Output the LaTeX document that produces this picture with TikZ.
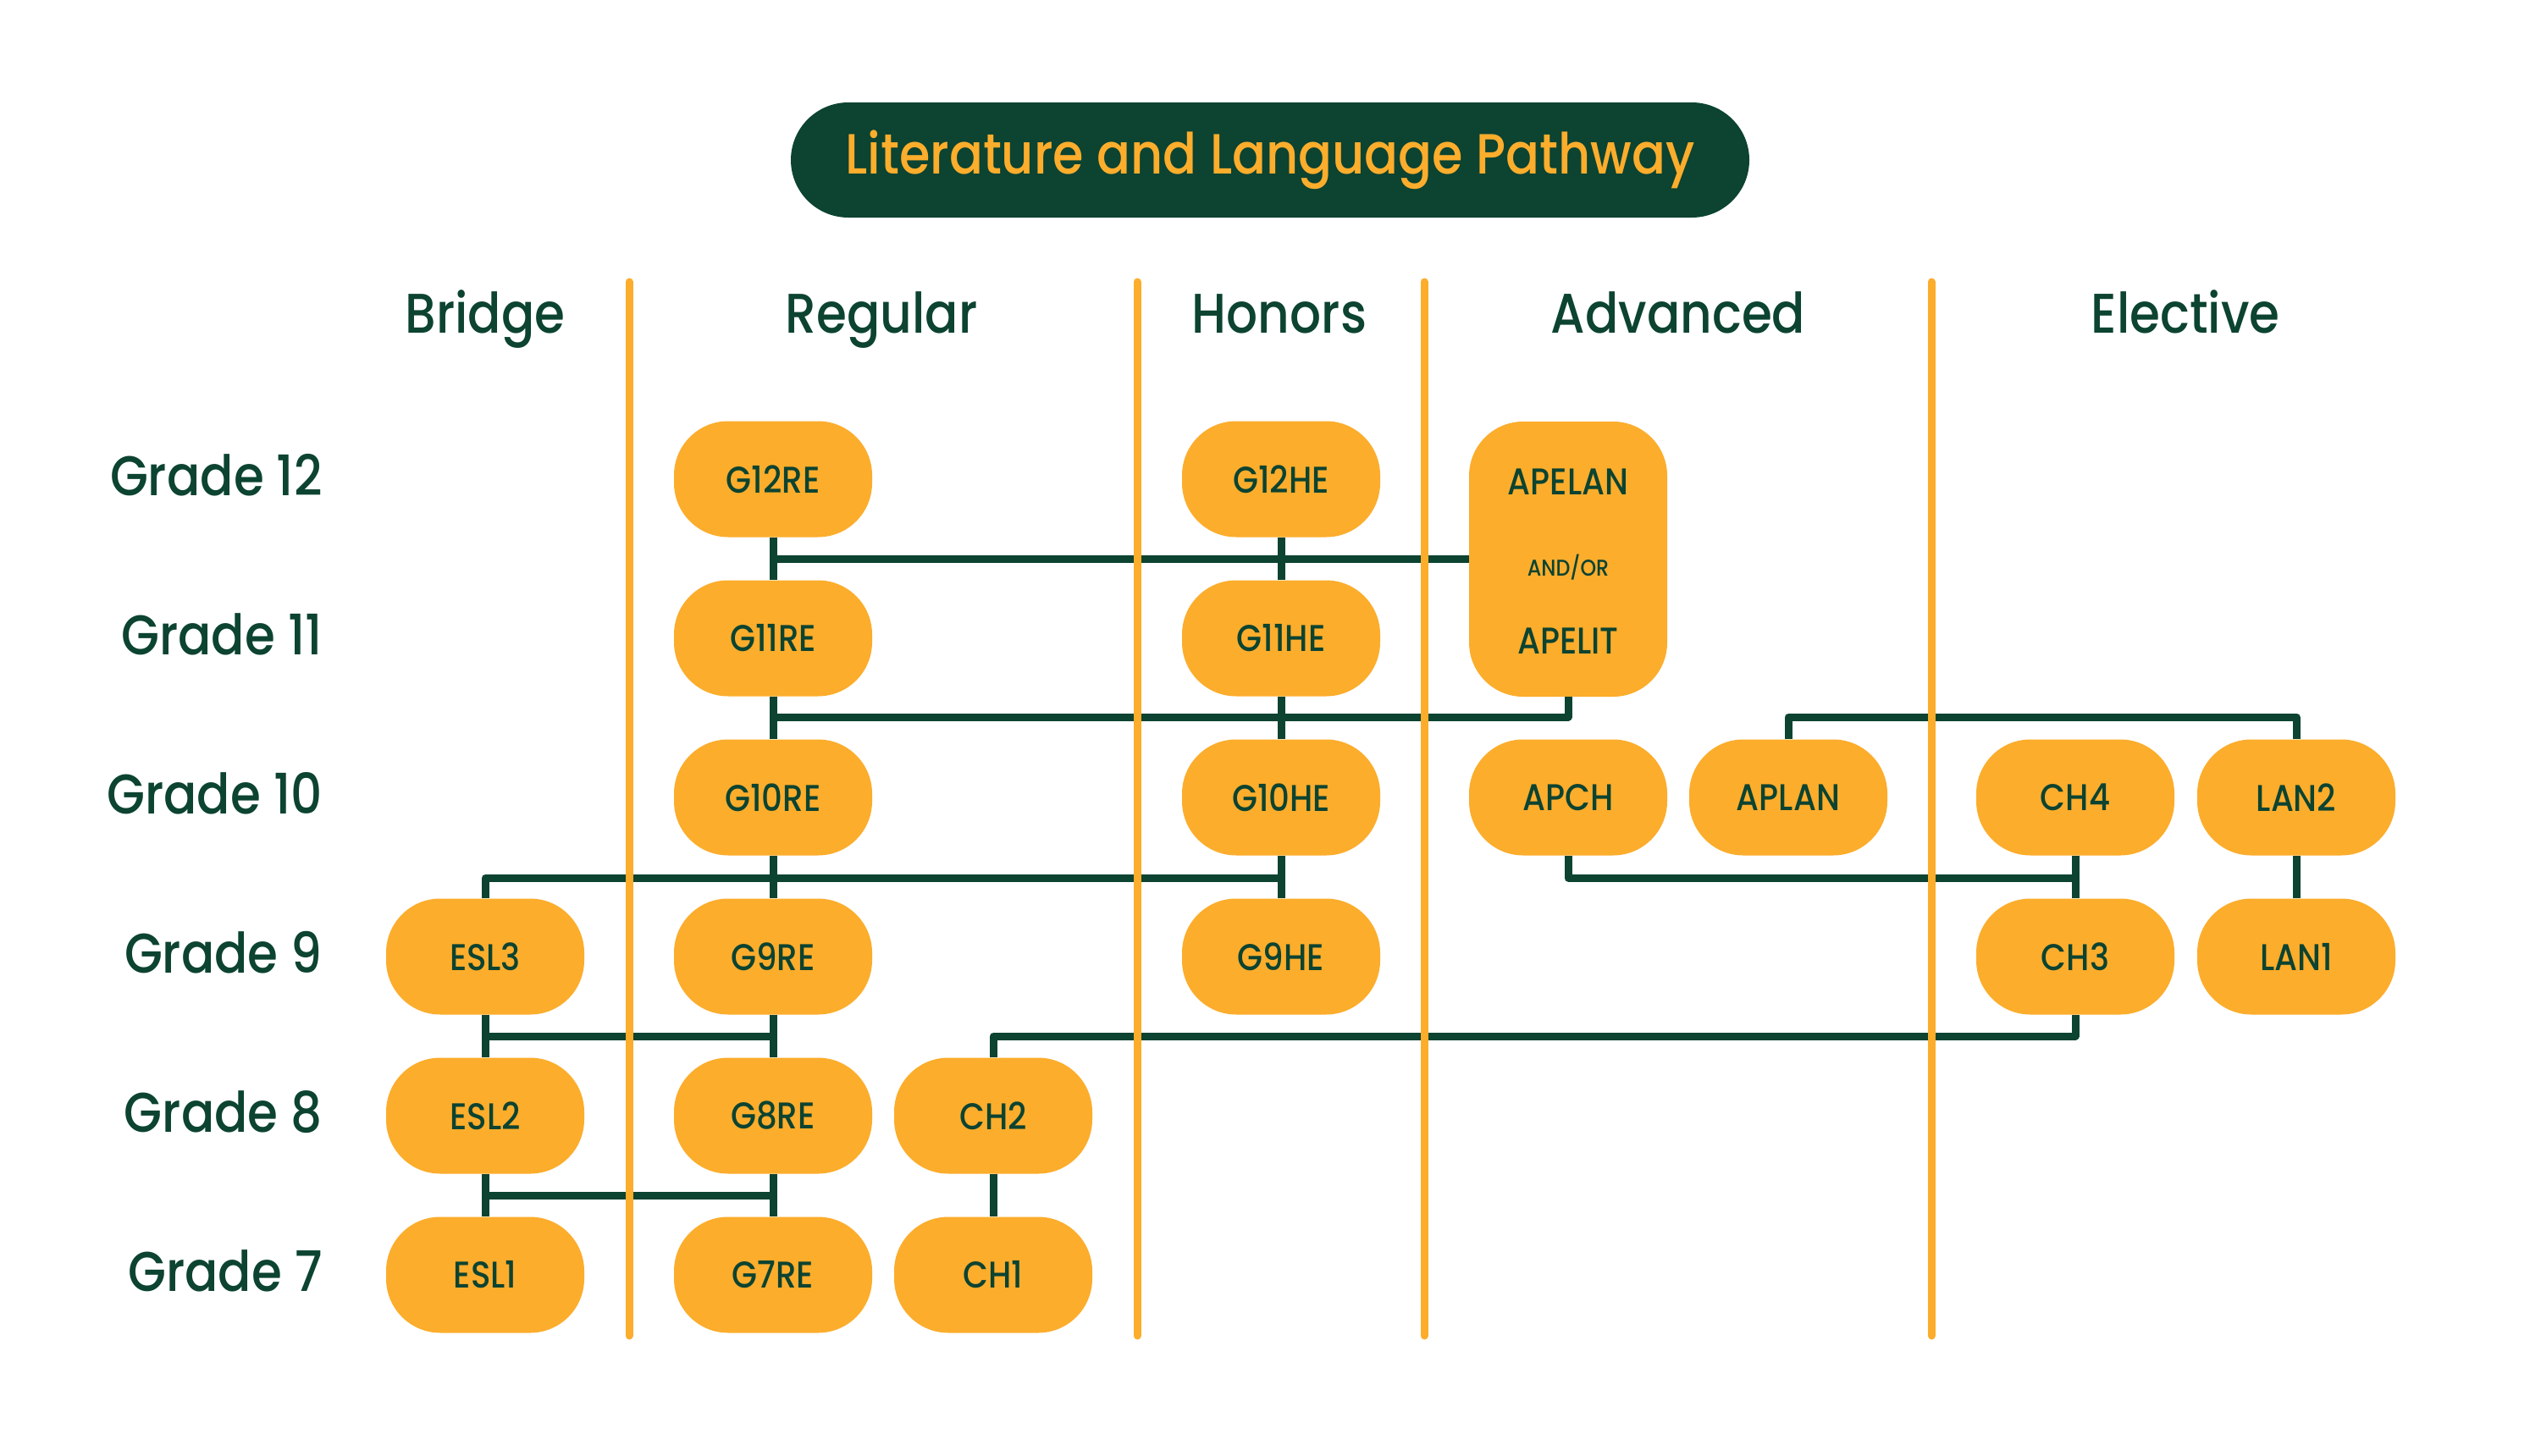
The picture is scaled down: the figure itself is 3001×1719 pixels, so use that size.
\documentclass[tikz,border=0pt]{standalone}
\usepackage{fontspec}
\setmainfont{Poppins}[FakeStretch=0.88, UprightFont=* Medium]
\definecolor{dkgreen}{HTML}{0C4331}
\definecolor{gold}{HTML}{FCAD2C}
\begin{document}
\begin{tikzpicture}[x=1pt,y=-1pt,
  course/.style={fill=gold, rounded corners=64pt, minimum width=234pt, minimum height=137pt, inner sep=0pt, text=dkgreen, font=\fontsize{44}{48}\selectfont},
  inbox/.style={inner sep=0pt, text=dkgreen, font=\fontsize{44}{48}\selectfont},
  grade/.style={anchor=base east, inner sep=0pt, text=dkgreen, font=\fontsize{66}{70}\selectfont},
  colhead/.style={anchor=base, inner sep=0pt, text=dkgreen, font=\fontsize{66}{70}\selectfont},
  divider/.style={draw=gold, line width=9pt, line cap=round},
  link/.style={draw=dkgreen, line width=9pt, line join=round}]

\useasboundingbox (0,0) rectangle (3001,1719);
\fill[white] (0,0) rectangle (3001,1719);

% title
\node[fill=dkgreen, rounded corners=68pt, minimum width=1132pt, minimum height=136pt, inner sep=0pt,
      text=gold, font=\fontsize{67}{70}\selectfont] (title) at (1500,189) {Literature and Language Pathway};

% column headers
\node[colhead] (hbridge) at (573,393) {Bridge};
\node[colhead] (hregular) at (1041,393) {Regular};
\node[colhead] (hhonors) at (1511,393) {Honors};
\node[colhead] (hadvanced) at (1982,393) {Advanced};
\node[colhead] (helective) at (2581,393) {Elective};

% row labels
\node[grade] (r12) at (381,585) {Grade 12};
\node[grade] (r11) at (381,773) {Grade 11};
\node[grade] (r10) at (381,961) {Grade 10};
\node[grade] (r9) at (381,1149) {Grade 9};
\node[grade] (r8) at (381,1337) {Grade 8};
\node[grade] (r7) at (381,1525) {Grade 7};

% regular
\node[course] (g12re) at (913,566) {G12RE};
\node[course] (g11re) at (913,754) {G11RE};
\node[course] (g10re) at (913,942) {G10RE};
\node[course] (g9re) at (913,1130) {G9RE};
\node[course] (g8re) at (913,1318) {G8RE};
\node[course] (g7re) at (913,1506) {G7RE};
% bridge
\node[course] (esl3) at (573,1130) {ESL3};
\node[course] (esl2) at (573,1318) {ESL2};
\node[course] (esl1) at (573,1506) {ESL1};
% chinese lower
\node[course] (ch2) at (1173,1318) {CH2};
\node[course] (ch1) at (1173,1506) {CH1};
% honors
\node[course] (g12he) at (1513,566) {G12HE};
\node[course] (g11he) at (1513,754) {G11HE};
\node[course] (g10he) at (1513,942) {G10HE};
\node[course] (g9he) at (1513,1130) {G9HE};
% advanced
\node[course, minimum height=325pt, rounded corners=64pt] (apel) at (1852,660.5) {};
\node[inbox] (apelan) at (1852,569) {APELAN};
\node[inbox, font=\fontsize{27}{30}\selectfont] (andor) at (1852,670) {AND/OR};
\node[inbox] (apelit) at (1852,757) {APELIT};
\node[course] (apch) at (1852,942) {APCH};
\node[course] (aplan) at (2112,942) {APLAN};
% elective
\node[course] (ch4) at (2451,942) {CH4};
\node[course] (ch3) at (2451,1130) {CH3};
\node[course] (lan2) at (2712,942) {LAN2};
\node[course] (lan1) at (2712,1130) {LAN1};

% bus levels
\coordinate (busB) at (0,847);
\coordinate (busC) at (0,1037);
\coordinate (busD) at (0,1224);
\coordinate (busE) at (0,1412);

% vertical links
\draw[link] (g12re.south) -- (g11re.north);
\draw[link] (g11re.south) -- (g10re.north);
\draw[link] (g10re.south) -- (g9re.north);
\draw[link] (g9re.south) -- (g8re.north);
\draw[link] (g8re.south) -- (g7re.north);
\draw[link] (g12he.south) -- (g11he.north);
\draw[link] (g11he.south) -- (g10he.north);
\draw[link] (g10he.south) -- (g9he.north);
\draw[link] (esl3.south) -- (esl2.north);
\draw[link] (esl2.south) -- (esl1.north);
\draw[link] (ch2.south) -- (ch1.north);
\draw[link] (ch4.south) -- (ch3.north);
\draw[link] (lan2.south) -- (lan1.north);

% horizontal buses
\draw[link] (g12re.south |- apel.west) -- (apel.west);
\draw[link] (g11re.south |- busB) -- (apel.south |- busB) -- (apel.south);
\draw[link] (aplan.north) -- (aplan.north |- busB) -- (lan2.north |- busB) -- (lan2.north);
\draw[link] (esl3.north) -- (esl3.north |- busC) -- (g10he.south |- busC);
\draw[link] (apch.south) -- (apch.south |- busC) -- (ch4.south |- busC);
\draw[link] (ch2.north) -- (ch2.north |- busD) -- (ch3.south |- busD) -- (ch3.south);
\draw[link] (esl3.south |- busD) -- (g9re.south |- busD);
\draw[link] (esl2.south |- busE) -- (g8re.south |- busE);

% column dividers
\draw[divider] (743,333) -- (743,1578);
\draw[divider] (1343,333) -- (1343,1578);
\draw[divider] (1682,333) -- (1682,1578);
\draw[divider] (2281,333) -- (2281,1578);
\end{tikzpicture}
\end{document}
